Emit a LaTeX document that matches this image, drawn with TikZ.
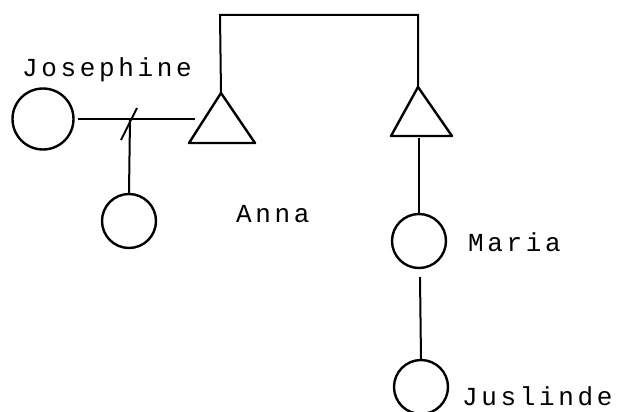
\documentclass[tikz,border=0pt]{standalone}
\usepackage{fontspec}
\setmonofont{Liberation Mono}[LetterSpace=14]
\begin{document}
\begin{tikzpicture}[x=1pt,y=-1pt,
  person/.style={circle,draw,line width=2.4pt,inner sep=0pt,minimum size=#1},
  tri/.style={draw,line width=2.4pt,line join=round},
  link/.style={line width=2pt},
  lbl/.style={anchor=base west,inner sep=0pt,font=\ttfamily\fontsize{26}{30}\selectfont}]
\useasboundingbox (0,0) rectangle (621,412);
% people
\node[person=61pt] (jos) at (43,119) {};
\node[person=54pt] (child) at (129,221) {};
\node[person=54pt] (maria) at (419,241) {};
\node[person=54pt] (jus) at (421,387) {};
% triangles
\coordinate (annaApex) at (221,93);
\coordinate (annaBL) at (189,143);
\coordinate (annaBR) at (255,143);
\draw[tri] (annaApex) -- (annaBR) -- (annaBL) -- cycle;
\coordinate (broApex) at (418,87);
\coordinate (broBL) at (391,136);
\coordinate (broBR) at (452,136);
\coordinate (broBase) at (419,138);
\draw[tri] (broApex) -- (broBR) -- (broBL) -- cycle;
% connectors
\coordinate (marEnd) at (195,119);
\coordinate (marMid) at (130,119);
\coordinate (slashA) at (121,140);
\coordinate (slashB) at (137,108);
\coordinate (topL) at (220,15);
\coordinate (topR) at (418,15);
\draw[link] (jos.east) ++(3,0) -- (marEnd);
\draw[link] (slashA) -- (slashB);
\draw[link] (marMid) -- (child.north);
\draw[link] (annaApex) -- (topL) -- (topR) -- (broApex);
\draw[link] (broBase) -- (maria.north);
\draw[link] (maria.south) ++(1,8) -- (jus.north);
% labels
\node[lbl] (tJos) at (22,77) {Josephine};
\node[lbl] (tAnna) at (236,222) {Anna};
\node[lbl] (tMaria) at (468,251) {Maria};
\node[lbl] (tJus) at (462,405) {Juslinde};
\end{tikzpicture}
\end{document}
